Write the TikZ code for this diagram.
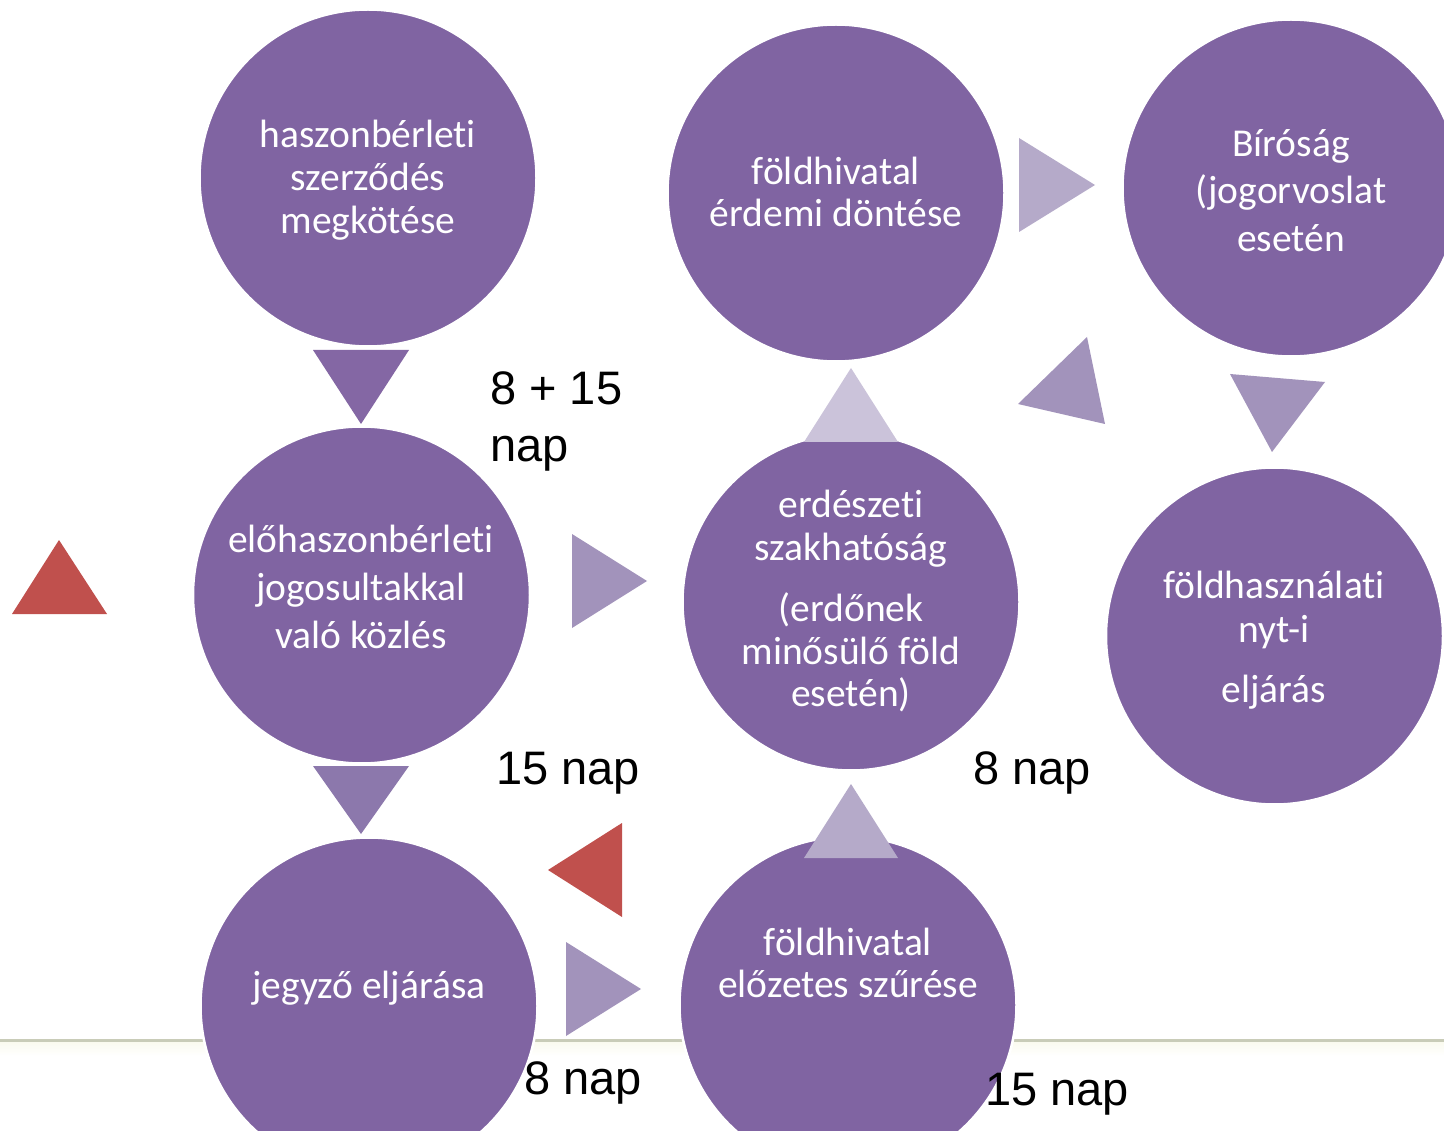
\documentclass[tikz,border=0pt]{standalone}
\usepackage{fontspec}
\setmainfont{Carlito}[Ligatures=NoCommon]
\newfontfamily\daysfont{Liberation Sans}
\definecolor{stagefill}{HTML}{8064A2}
\definecolor{arrowA}{HTML}{8467A4}
\definecolor{arrowB}{HTML}{8C78AC}
\definecolor{arrowC}{HTML}{A293BB}
\definecolor{arrowD}{HTML}{B5AAC9}
\definecolor{arrowE}{HTML}{CBC3DA}
\definecolor{warn}{HTML}{C0504D}
\definecolor{rule}{HTML}{C9CCB8}
\definecolor{cream}{HTML}{FAFAEE}
\begin{document}
\begin{tikzpicture}[x=1pt,y=-1pt,
  stage/.style={circle, fill=stagefill, draw=white, line width=2.5pt,
    minimum size=337pt, inner sep=0pt},
  txt/.style={text=white, font=\fontsize{39.5}{47}\selectfont, anchor=base,
    inner sep=0pt},
  days/.style={font=\daysfont\fontsize{47}{56}\selectfont, anchor=base west,
    inner sep=0pt}]
\useasboundingbox (0,0) rectangle (1444,1131);
\clip (0,0) rectangle (1444,1131);
\fill[white] (0,0) rectangle (1444,1131);

% footer rule with a soft cream band below it
\shade[top color=cream, bottom color=white] (0,1041) rectangle (1444,1056);
\draw[rule, line width=3pt] (0,1040) -- (1444,1040);

% stages
\node[stage] (c1) at (368,178) {};
\node[stage] (c2) at (361.5,595) {};
\node[stage] (c3) at (369,1006) {};
\node[stage] (c4) at (836,193) {};
\node[stage] (c5) at (851,602) {};
\node[stage] (c6) at (848,1005) {};
\node[stage] (c7) at (1291,188) {};
\node[stage] (c8) at (1274.5,636) {};

% stage texts
\node[txt] (c1a) at (368,148) {haszonbérleti};
\node[txt] (c1b) at (368,191) {szerződés};
\node[txt] (c1c) at (368,234) {megkötése};

\node[txt] (c2a) at (361,552) {előhaszonbérleti};
\node[txt] (c2b) at (361,600) {jogosultakkal};
\node[txt] (c2c) at (361,648) {való közlés};

\node[txt] (c3a) at (369,998) {jegyző eljárása};

\node[txt] (c4a) at (836,185) {földhivatal};
\node[txt] (c4b) at (836,227) {érdemi döntése};

\node[txt] (c5a) at (851,518) {erdészeti};
\node[txt] (c5b) at (851,560) {szakhatóság};
\node[txt] (c5c) at (851,621) {(erdőnek};
\node[txt] (c5d) at (851,664) {minősülő föld};
\node[txt] (c5e) at (851,706) {esetén)};

\node[txt] (c6a) at (848,955) {földhivatal};
\node[txt] (c6b) at (848,997) {előzetes szűrése};

\node[txt] (c7a) at (1291,157) {Bíróság};
\node[txt] (c7b) at (1291,204) {(jogorvoslat};
\node[txt] (c7c) at (1291,252) {esetén};

\node[txt] (c8a) at (1274,598) {földhasználati};
\node[txt] (c8b) at (1274,642) {nyt-i};
\node[txt] (c8c) at (1274,702) {eljárás};

% flow arrows
\fill[arrowA] (313,350) -- (409,350) -- (361,424) -- cycle;
\fill[arrowB] (313,766) -- (409,766) -- (361,834) -- cycle;
\fill[arrowC] (572,534) -- (572,628) -- (647,581) -- cycle;
\fill[arrowC] (566,942) -- (566,1036) -- (641,989) -- cycle;
\fill[arrowE] (804,442) -- (898,442) -- (851,368) -- cycle;
\fill[arrowD] (804,858) -- (898,858) -- (851,784) -- cycle;
\fill[arrowD] (1019,138) -- (1019,232) -- (1095,185) -- cycle;
\fill[arrowC] (1018,404) -- (1087,337) -- (1105,424) -- cycle;
\fill[arrowC] (1230,374) -- (1325,382) -- (1272,452) -- cycle;
\fill[warn] (548,870) -- (622,823) -- (622,917) -- cycle;
\fill[warn] (12,614) -- (59,540) -- (107,614) -- cycle;

% deadlines
\node[days] (d1) at (490,405) {8 + 15};
\node[days] (d1b) at (490,462) {nap};
\node[days] (d2) at (496,784) {15 nap};
\node[days] (d3) at (524,1094) {8 nap};
\node[days] (d4) at (973,784) {8 nap};
\node[days] (d5) at (985,1105) {15 nap};
\end{tikzpicture}
\end{document}
